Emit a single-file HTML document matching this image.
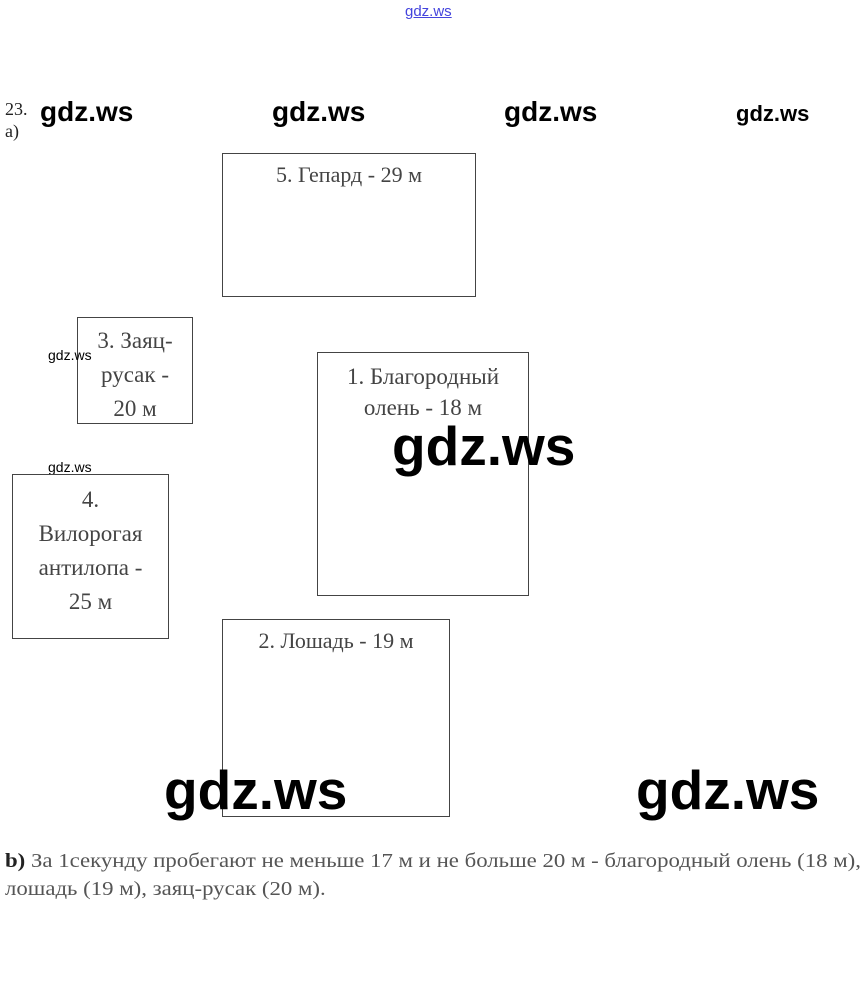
<!DOCTYPE html>
<html><head><meta charset="utf-8"><style>
body{margin:0;width:866px;height:993px;background:#fff;position:relative;overflow:hidden;font-family:"Liberation Serif",serif;color:#333}
.a{position:absolute}
.b{position:absolute;border:1px solid #444;box-sizing:border-box;text-align:center;font-size:22px;line-height:30px;color:#444}
.w{position:absolute;font-family:"Liberation Sans",sans-serif;font-weight:bold;color:#000}
</style></head><body>
<div class="a" style="left:405px;top:3px;font-family:'Liberation Sans',sans-serif;font-size:15px;color:#4444dd;text-decoration:underline">gdz.ws</div>
<div class="a" style="left:5px;top:98px;font-size:18px;color:#222;line-height:22px">23.<br>a)</div>
<div class="w" style="left:40px;top:96px;font-size:28px">gdz.ws</div>
<div class="w" style="left:272px;top:96px;font-size:28px">gdz.ws</div>
<div class="w" style="left:504px;top:96px;font-size:28px">gdz.ws</div>
<div class="w" style="left:736px;top:101px;font-size:22px">gdz.ws</div>
<div class="b" style="left:222px;top:153px;width:254px;height:144px;padding-top:6px">5. Гепард - 29 м</div>
<div class="b" style="left:77px;top:317px;width:116px;height:107px;padding-top:6px;line-height:34px;font-size:23px">3. Заяц-<br>русак -<br>20 м</div>
<div class="w" style="left:48px;top:347px;font-size:14px;font-weight:normal">gdz.ws</div>
<div class="b" style="left:317px;top:352px;width:212px;height:244px;padding-top:8px;line-height:31px;font-size:23px">1. Благородный<br>олень - 18 м</div>
<div class="w" style="left:392px;top:414px;font-size:55px">gdz.ws</div>
<div class="w" style="left:48px;top:459px;font-size:14px;font-weight:normal">gdz.ws</div>
<div class="b" style="left:12px;top:474px;width:157px;height:165px;padding-top:8px;line-height:34px;font-size:23px">4.<br>Вилорогая<br>антилопа -<br>25 м</div>
<div class="b" style="left:222px;top:619px;width:228px;height:198px;padding-top:6px">2. Лошадь - 19 м</div>
<div class="w" style="left:164px;top:758px;font-size:55px">gdz.ws</div>
<div class="w" style="left:636px;top:758px;font-size:55px">gdz.ws</div>
<div class="a" style="left:5px;top:847px;font-size:20px;line-height:28px;color:#555;width:740px;white-space:nowrap;transform:scaleX(1.14);transform-origin:0 0"><b style="color:#222">b)</b> За 1секунду пробегают не меньше 17 м и не больше 20 м - благородный олень (18 м),<br>лошадь (19 м), заяц-русак (20 м).</div>
</body></html>
